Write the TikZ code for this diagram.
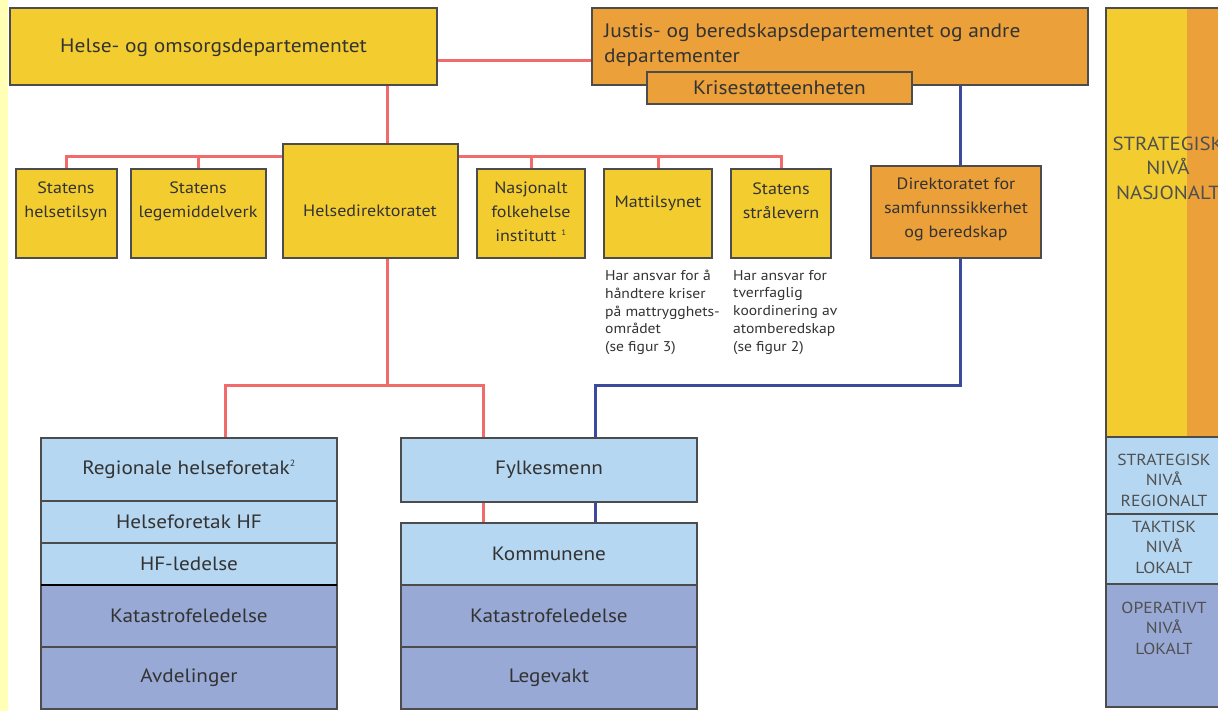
\documentclass[tikz,border=0pt]{standalone}
\usepackage{fontspec}
\setmainfont{PT Sans}[FakeStretch=1.1]
\definecolor{yel}{HTML}{F3CD30}
\definecolor{ora}{HTML}{EBA03A}
\definecolor{lblue}{HTML}{B5D7F1}
\definecolor{vblue}{HTML}{99A9D6}
\definecolor{redl}{HTML}{F36A6A}
\definecolor{bluel}{HTML}{3B4A9C}
\definecolor{txt}{HTML}{333333}
\definecolor{lvl}{HTML}{505050}
\definecolor{strip}{HTML}{FFFFB5}
\pgfdeclarelayer{background}
\pgfsetlayers{background,main}
\begin{document}
\begin{tikzpicture}[x=1pt,y=-1pt,
  box/.style={draw=black!70, line width=1.3pt, anchor=north west, inner sep=0pt, outer sep=0pt, text=txt},
  ybox/.style={box, fill=yel},
  obox/.style={box, fill=ora},
  lbox/.style={box, fill=lblue, font=\fontsize{19.3}{22}\selectfont},
  vbox/.style={box, fill=vblue, font=\fontsize{19.3}{22}\selectfont},
  big/.style={text=txt, inner sep=0pt, font=\fontsize{19.5}{22}\selectfont},
  small/.style={text=txt, inner sep=0pt, align=center, font=\fontsize{16.4}{24}\selectfont},
  note/.style={text=txt, inner sep=0pt, align=left, anchor=north west, font=\fontsize{14.2}{17.75}\selectfont},
  lvltxt/.style={text=lvl, inner sep=0pt, align=center, font=\fontsize{16}{20.5}\selectfont},
  redline/.style={draw=redl, line width=3pt},
  blueline/.style={draw=bluel, line width=3pt}]
\useasboundingbox (0,0) rectangle (1218,711);
\clip (0,0) rectangle (1218,711);
\begin{pgfonlayer}{background}
\fill[white] (0,0) rectangle (1218,711);
\fill[strip] (0,0) rectangle (8,711);
\end{pgfonlayer}

% top level
\node[ybox, minimum width=427, minimum height=77] (hod) at (10,8) {};
\node[big, anchor=mid west] (hodt) at (60,50) {Helse- og omsorgsdepartementet};
\node[obox, minimum width=496, minimum height=77] (jus) at (592,8) {};
\node[big, anchor=mid west] (jus1) at (604,35) {Justis- og beredskapsdepartementet og andre};
\node[big, anchor=mid west] (jus2) at (604,60) {departementer};
\node[obox, minimum width=265, minimum height=32, font=\fontsize{19.5}{22}\selectfont] (kri) at (647,72) {Krisestøtteenheten};

% directorates
\node[ybox, minimum width=101, minimum height=89] (sh) at (16,169) {};
\node[small] (sht) at (66,201) {Statens\\helsetilsyn};
\node[ybox, minimum width=135, minimum height=89] (sl) at (131,169) {};
\node[small] (slt) at (198,201) {Statens\\legemiddelverk};
\node[ybox, minimum width=175, minimum height=114] (hdir) at (283,144) {};
\node[small] (hdirt) at (370,211) {Helsedirektoratet};
\node[ybox, minimum width=108, minimum height=89] (nf) at (477,169) {};
\node[small] (nft) at (531,212) {Nasjonalt\\folkehelse\\institutt \textsuperscript{\fontsize{8}{8}\selectfont 1}};
\node[ybox, minimum width=108, minimum height=89] (mt) at (604,169) {};
\node[small] (mtt) at (658,203) {Mattilsynet};
\node[ybox, minimum width=100, minimum height=89] (ss) at (731,169) {};
\node[small] (sst) at (781,201) {Statens\\strålevern};
\node[obox, minimum width=170, minimum height=92] (dsb) at (871,166) {};
\node[small] (dsbt) at (956,209) {Direktoratet for\\samfunnssikkerhet\\og beredskap};

% notes
\node[note] (n1) at (605,270) {Har ansvar for å\\håndtere kriser\\på mattrygghets-\\området\\(se figur 3)};
\node[note] (n2) at (733,270) {Har ansvar for\\tverrfaglig\\koordinering av\\atomberedskap\\(se figur 2)};

% lower left stack
\node[lbox, minimum width=296, minimum height=63] (rhf) at (41,438) {Regionale helseforetak\textsuperscript{\fontsize{9}{9}\selectfont 2}};
\node[lbox, minimum width=296, minimum height=42] (hf) at (41,501) {Helseforetak HF};
\node[lbox, minimum width=296, minimum height=42] (hfl) at (41,543) {HF-ledelse};
\node[vbox, minimum width=296, minimum height=62] (kat1) at (41,585) {Katastrofeledelse};
\node[vbox, minimum width=296, minimum height=62] (avd) at (41,647) {Avdelinger};
\draw[black, line width=1.5pt] (hfl.south west) -- (hfl.south east);

% lower right stack
\node[lbox, minimum width=296, minimum height=64] (fylk) at (401,438) {Fylkesmenn};
\node[lbox, minimum width=296, minimum height=62] (komm) at (401,523) {Kommunene};
\node[vbox, minimum width=296, minimum height=62] (kat2) at (401,585) {Katastrofeledelse};
\node[vbox, minimum width=296, minimum height=62] (leg) at (401,647) {Legevakt};

% right level column
\node[box, fill=yel, minimum width=81, minimum height=429, draw=none] (lvy) at (1106,8) {};
\node[box, fill=ora, minimum width=50, minimum height=429, draw=none] (lvo) at (1187,8) {};
\draw[black!70, line width=1.3pt] (lvy.north west) rectangle (lvo.south east);
\node[lvltxt, font=\fontsize{19}{24.5}\selectfont] (l1) at (1168,168) {STRATEGISK\\NIVÅ\\NASJONALT};
\node[box, fill=lblue, minimum width=131, minimum height=77] (lv2) at (1106,437) {};
\node[lvltxt] (l2) at (1164,480) {STRATEGISK\\NIVÅ\\REGIONALT};
\node[box, fill=lblue, minimum width=131, minimum height=70] (lv3) at (1106,514) {};
\node[lvltxt] (l3) at (1164,547) {TAKTISK\\NIVÅ\\LOKALT};
\node[box, fill=vblue, minimum width=131, minimum height=123] (lv4) at (1106,584) {};
\node[lvltxt] (l4) at (1164,628) {OPERATIVT\\NIVÅ\\LOKALT};

% connectors
\coordinate (rl) at (0,61);
\coordinate (vx) at (387,0);
\coordinate (hy) at (0,157);
\coordinate (ly) at (0,385);
\coordinate (lx1) at (225,0);
\coordinate (lx2) at (483,0);
\coordinate (bx) at (960,0);
\coordinate (bx2) at (595,0);
\begin{pgfonlayer}{background}
\draw[redline] (hod.east |- rl) -- (jus.west |- rl);
\draw[redline] (hod.south -| vx) -- (hdir.north -| vx);
\draw[redline] (sh.north) -- (sh.north |- hy) -- (ss.north |- hy) -- (ss.north);
\draw[redline] (sl.north) -- (sl.north |- hy);
\draw[redline] (nf.north) -- (nf.north |- hy);
\draw[redline] (mt.north) -- (mt.north |- hy);
\draw[redline] (hdir.south -| vx) -- (vx |- ly);
\draw[redline] (rhf.north -| lx1) -- (lx1 |- ly) -- (lx2 |- ly) -- (fylk.north -| lx2);
\draw[redline] (fylk.south -| lx2) -- (komm.north -| lx2);
\draw[blueline] (jus.south -| bx) -- (dsb.north -| bx);
\draw[blueline] (dsb.south -| bx) -- (bx |- ly) -- (bx2 |- ly) -- (fylk.north -| bx2);
\draw[blueline] (fylk.south -| bx2) -- (komm.north -| bx2);
\end{pgfonlayer}
\end{tikzpicture}
\end{document}
